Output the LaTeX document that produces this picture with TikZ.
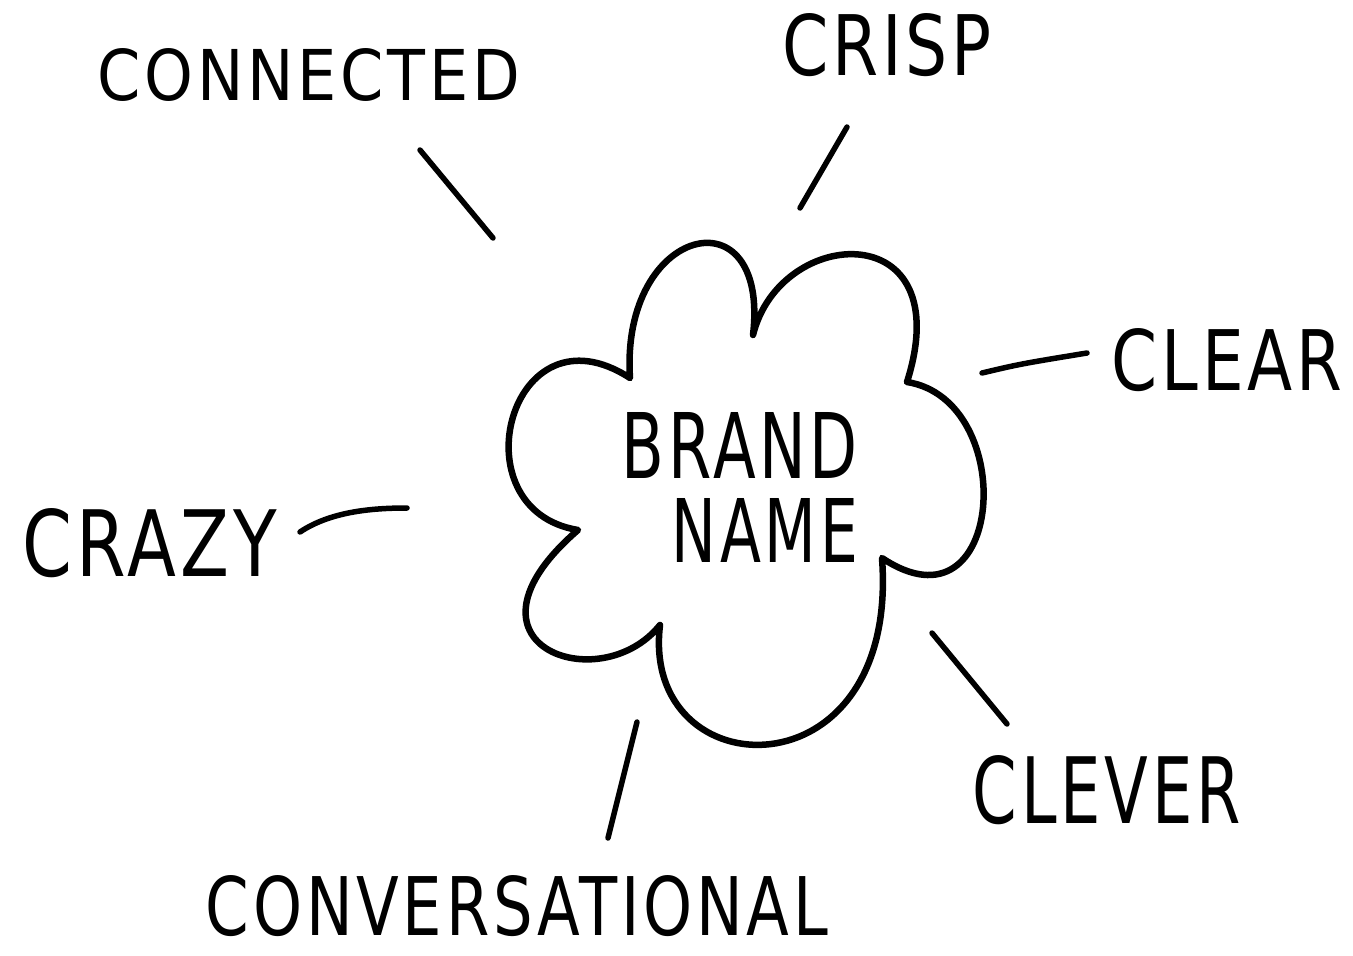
\documentclass[tikz,border=0pt]{standalone}
\usepackage{fontspec}
\setmainfont{DejaVu Sans}[LetterSpace=6]
\usepackage{graphicx}
\newcommand\hlab[3]{\resizebox{#1pt}{#2pt}{#3}}
\begin{document}
\begin{tikzpicture}[x=1pt,y=-1pt,line cap=round,line join=round]
\tikzset{
  ink/.style={line width=6.5pt,black},
  stroke/.style={line width=5.5pt,black},
  lbl/.style={inner sep=0pt,outer sep=0pt}
}
\useasboundingbox (0,0) rectangle (1353,956);
\fill[white] (0,0) rectangle (1353,956);

% cloud
\draw[ink] (630,378) .. controls (620,225) and (770,190) .. (753,335)
  .. controls (780,225) and (960,215) .. (907,382)
  .. controls (1020,400) and (1005,640) .. (882,558)
  .. controls (900,800) and (640,790) .. (660,625)
  .. controls (600,700) and (445,645) .. (578,530)
  .. controls (455,510) and (510,300) .. (630,378) -- cycle;

% labels
\node[lbl,align=center,anchor=north] (brand) at (740,412)
  {\hlab{236}{66}{BRAND}\\[19pt]\hspace*{50pt}\hlab{186}{64}{NAME}};
\node[lbl] (connected) at (309,75) {\hlab{422}{52}{CONNECTED}};
\node[lbl] (crisp) at (887,45) {\hlab{210}{62}{CRISP}};
\node[lbl] (clear) at (1227,360) {\hlab{231}{62}{CLEAR}};
\node[lbl] (crazy) at (150,543) {\hlab{255}{68}{CRAZY}};
\node[lbl] (clever) at (1107,790) {\hlab{268}{68}{CLEVER}};
\node[lbl] (conv) at (517,906) {\hlab{622}{60}{CONVERSATIONAL}};

% connector ends
\coordinate (cnA) at (420,150); \coordinate (cnB) at (493,238);
\coordinate (crA) at (847,127); \coordinate (crB) at (800,208);
\coordinate (clA) at (982,373); \coordinate (clB) at (1087,353);
\coordinate (czA) at (300,532); \coordinate (czB) at (407,508);
\coordinate (cvA) at (932,633); \coordinate (cvB) at (1007,724);
\coordinate (coA) at (637,722); \coordinate (coB) at (608,838);

\draw[stroke] (cnA) -- (cnB);
\draw[stroke] (crA) -- (crB);
\draw[stroke] (clA) .. controls (1020,364) .. (clB);
\draw[stroke] (czA) .. controls (330,512) and (370,508) .. (czB);
\draw[stroke] (cvA) -- (cvB);
\draw[stroke] (coA) -- (coB);
\end{tikzpicture}
\end{document}
